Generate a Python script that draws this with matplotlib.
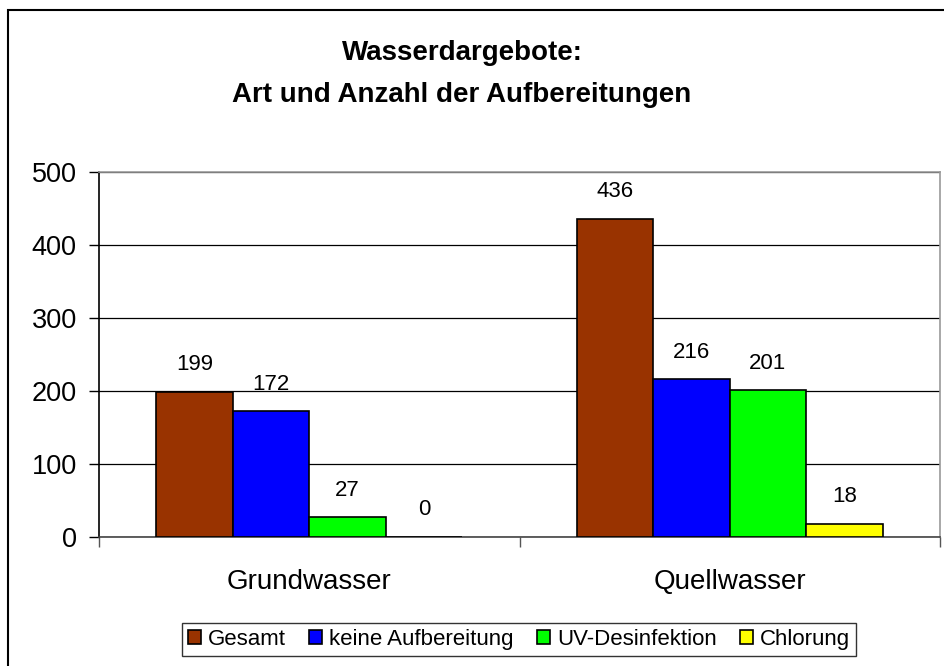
import numpy as np
import matplotlib.pyplot as plt
from matplotlib.patches import Rectangle

plt.rcParams['font.family'] = ['Liberation Sans', 'DejaVu Sans']

# data
categories = ['Grundwasser', 'Quellwasser']
series = ['Gesamt', 'keine Aufbereitung', 'UV-Desinfektion', 'Chlorung']
values = [
    [199, 436],   # Gesamt
    [172, 216],   # keine Aufbereitung
    [27, 201],    # UV-Desinfektion
    [0, 18],      # Chlorung
]
colors = ['#993300', '#0000ff', '#00ff00', '#ffff00']

W, H = 944, 666
fig = plt.figure(figsize=(W / 100, H / 100), dpi=100)
ax = fig.add_axes([99 / W, 1 - 537 / H, (940 - 99) / W, (537 - 172) / H])

x = np.arange(len(categories))
w = 1 / 5.5
for i, (name, vals) in enumerate(zip(series, values)):
    pos = x + (i - 1.5) * w
    ax.bar(pos, vals, width=w, color=colors[i], edgecolor='black',
           linewidth=1.2, label=name, zorder=3)
    for xb, v in zip(pos, vals):
        ax.annotate(str(v), (xb, v), xytext=(0, 19.5), textcoords='offset points',
                    ha='center', va='center', fontsize=16)

ax.set_xlim(-0.5, 1.5)
ax.set_ylim(0, 500)
ax.set_yticks([0, 100, 200, 300, 400, 500])
ax.tick_params(axis='y', labelsize=19.5, length=7, width=1, pad=9)
ax.yaxis.grid(True, color='black', linewidth=0.9, zorder=0)

# category ticks on boundaries, labels at centres
ax.set_xticks([-0.5, 0.5, 1.5])
ax.set_xticklabels([])
ax.tick_params(axis='x', length=7, width=1, color='#555555')
ax.set_xticks(x, minor=True)
ax.set_xticklabels(categories, minor=True, fontsize=20)
ax.tick_params(axis='x', which='minor', length=0, pad=23)

ax.spines['left'].set_color('black')
ax.spines['bottom'].set_color('#444444')
ax.spines['top'].set_color('#999999')
ax.spines['right'].set_color('#999999')
for s in ax.spines.values():
    s.set_linewidth(1.2)

fig.suptitle('Wasserdargebote:\nArt und Anzahl der Aufbereitungen',
             fontsize=20, fontweight='bold', y=1 - 40 / H, va='top',
             x=462 / W, linespacing=1.78)

leg = fig.legend(loc='center', bbox_to_anchor=(519 / W, 1 - 639.5 / H), ncol=4,
                 fontsize=16, frameon=True, fancybox=False, edgecolor='black',
                 handlelength=0.6, handleheight=0.6, handletextpad=0.3,
                 columnspacing=1.05, borderpad=0.25, borderaxespad=0)
leg.get_frame().set_linewidth(1.0)

# outer chart frame
fig.patches.append(Rectangle((8 / W, -0.1), 1.2, 1.1 - 10 / H, transform=fig.transFigure,
                             fill=False, edgecolor='black', linewidth=1.5))

fig.savefig('out.png', dpi=100)
